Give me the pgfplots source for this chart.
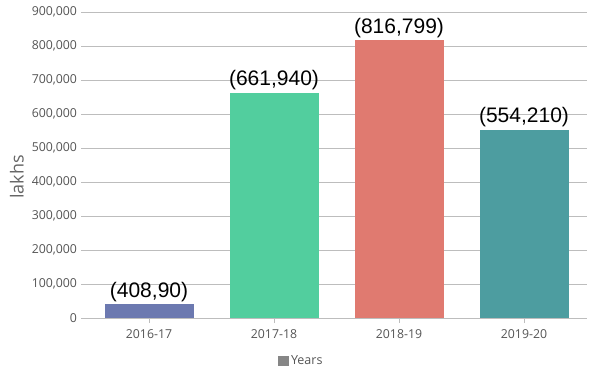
\documentclass[border=0pt]{standalone}
\usepackage{pgfplots}
\pgfplotsset{compat=1.18}
\usepackage{fontspec}
\setmainfont{Open Sans}
\newfontfamily\arial{Liberation Sans}
\definecolor{cA}{HTML}{6C79B0}
\definecolor{cB}{HTML}{52CE9E}
\definecolor{cC}{HTML}{E07A70}
\definecolor{cD}{HTML}{4D9DA0}
\definecolor{gridc}{HTML}{BDBDBD}
\definecolor{tickc}{HTML}{555555}
\begin{document}
\begin{tikzpicture}
\path[use as bounding box] (0,0) rectangle (597pt,373pt);
\begin{axis}[
  at={(86.5pt,55pt)}, anchor=south west,
  scale only axis, width=500pt, height=306pt,
  xmin=-0.5, xmax=3.5, ymin=0, ymax=900000,
  xtick={0,1,2,3}, xticklabels={2016-17,2017-18,2018-19,2019-20},
  ytick={0,100000,...,900000},
  scaled y ticks=false,
  yticklabel style={/pgf/number format/fixed, /pgf/number format/1000 sep={,}, xshift=-1pt},
  /pgf/number format/assume math mode=true,
  ticklabel style={font=\fontsize{12.3}{14}\selectfont, text=tickc},
  tick align=outside,
  major tick length=5pt,
  tick style={draw=gridc, line width=0.8pt},
  ymajorgrids, grid style={draw=gridc, line width=0.8pt},
  axis y line*=left, axis x line*=bottom,
  y axis line style={draw=none},
  x axis line style={draw=gridc, line width=0.8pt, -},
  ylabel={lakhs},
  ylabel style={font=\fontsize{18}{20}\selectfont, text=tickc!90, at={(rel axis cs:-0.139,0.461)}, anchor=center, rotate=0},
  xticklabel style={yshift=-3pt},
  ybar, bar width=89pt,
  nodes near coords style={font=\arial\fontsize{21}{23}\selectfont, text=black},
  every node near coord/.append style={anchor=base, yshift=7pt},
  legend style={at={(0.43,-0.141)}, anchor=center, draw=none, fill=none,
    font=\fontsize{12.5}{14}\selectfont, text=tickc,
    /tikz/every even column/.append style={column sep=0pt}},
  legend image code/.code={\fill[#1] (0pt,-5.3pt) rectangle (10.6pt,5.3pt);},
  clip=false,
]
\addlegendimage{fill=gray!95, draw=none}
\addlegendentry{Years}
\addplot[fill=cA, draw=none, bar shift=0pt, nodes near coords={(408,90)}] coordinates {(0,40890)};
\addplot[fill=cB, draw=none, bar shift=0pt, nodes near coords={(661,940)}] coordinates {(1,661940)};
\addplot[fill=cC, draw=none, bar shift=0pt, nodes near coords={(816,799)}] coordinates {(2,816799)};
\addplot[fill=cD, draw=none, bar shift=0pt, nodes near coords={(554,210)}] coordinates {(3,554210)};
\end{axis}
\end{tikzpicture}
\end{document}
